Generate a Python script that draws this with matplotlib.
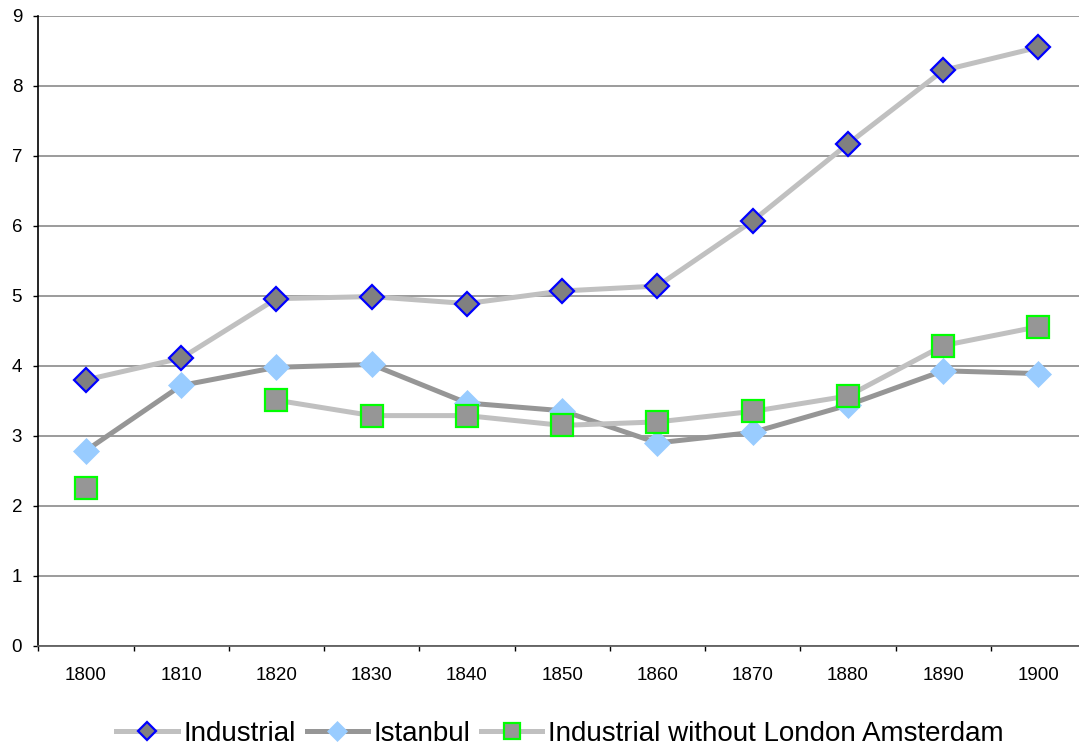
import numpy as np
import matplotlib.pyplot as plt

plt.rcParams['font.family'] = ['Liberation Sans', 'DejaVu Sans']

years = ['1800', '1810', '1820', '1830', '1840', '1850', '1860', '1870', '1880', '1890', '1900']
industrial = [3.80, 4.11, 4.96, 4.99, 4.89, 5.07, 5.14, 6.07, 7.17, 8.22, 8.55]
istanbul = [2.79, 3.72, 3.98, 4.02, 3.47, 3.36, 2.90, 3.05, 3.44, 3.93, 3.89]
ind_no_lon_ams = [2.25, np.nan, 3.51, 3.29, 3.29, 3.15, 3.20, 3.35, 3.57, 4.29, 4.56]

x = np.arange(len(years))

fig = plt.figure(figsize=(10.79, 7.52), dpi=100)
ax = fig.add_axes([0.0355, 0.141, 0.971, 0.838])

ax.plot(x, industrial, color='#C0C0C0', lw=3.6, marker='D', ms=12.3,
        mfc='#808080', mec='#0000FF', mew=1.6, label='Industrial', zorder=3)
ax.plot(x, istanbul, color='#969696', lw=3.6, marker='D', ms=13,
        mfc='#99CCFF', mec='#99CCFF', mew=0.5, label='Istanbul', zorder=4)
ax.plot(x, ind_no_lon_ams, color='#C0C0C0', lw=3.6, marker='s', ms=15.5,
        mfc='#969696', mec='#00FF00', mew=1.6,
        label='Industrial without London Amsterdam', zorder=5)

ax.set_xlim(-0.5, 10.5)
ax.set_ylim(0, 9)
ax.set_yticks(range(0, 10))
ax.set_xticks(x)
ax.set_xticklabels(years)
ax.set_xticks(np.arange(-0.5, 10.6, 1), minor=True)
ax.tick_params(axis='x', which='major', length=0, pad=15.5, labelsize=13.5)
ax.tick_params(axis='x', which='minor', length=3.6, width=1, direction='out', color='black')
ax.tick_params(axis='y', length=3.6, width=1, pad=8, labelsize=13.5, color='black')

ax.grid(axis='y', color='#808080', lw=1.1)
ax.set_axisbelow(True)
for s in ['top', 'right']:
    ax.spines[s].set_visible(False)
ax.spines['left'].set_color('black')
ax.spines['left'].set_linewidth(1.2)
ax.spines['bottom'].set_color('#606060')
ax.spines['bottom'].set_linewidth(1.3)

fig.legend(loc='center', bbox_to_anchor=(0.519, 0.024), ncol=3, frameon=False,
           fontsize=20, handlelength=2.2, handletextpad=0.2, columnspacing=0.4,
           markerscale=0.78)

fig.savefig('out.png', dpi=100)
